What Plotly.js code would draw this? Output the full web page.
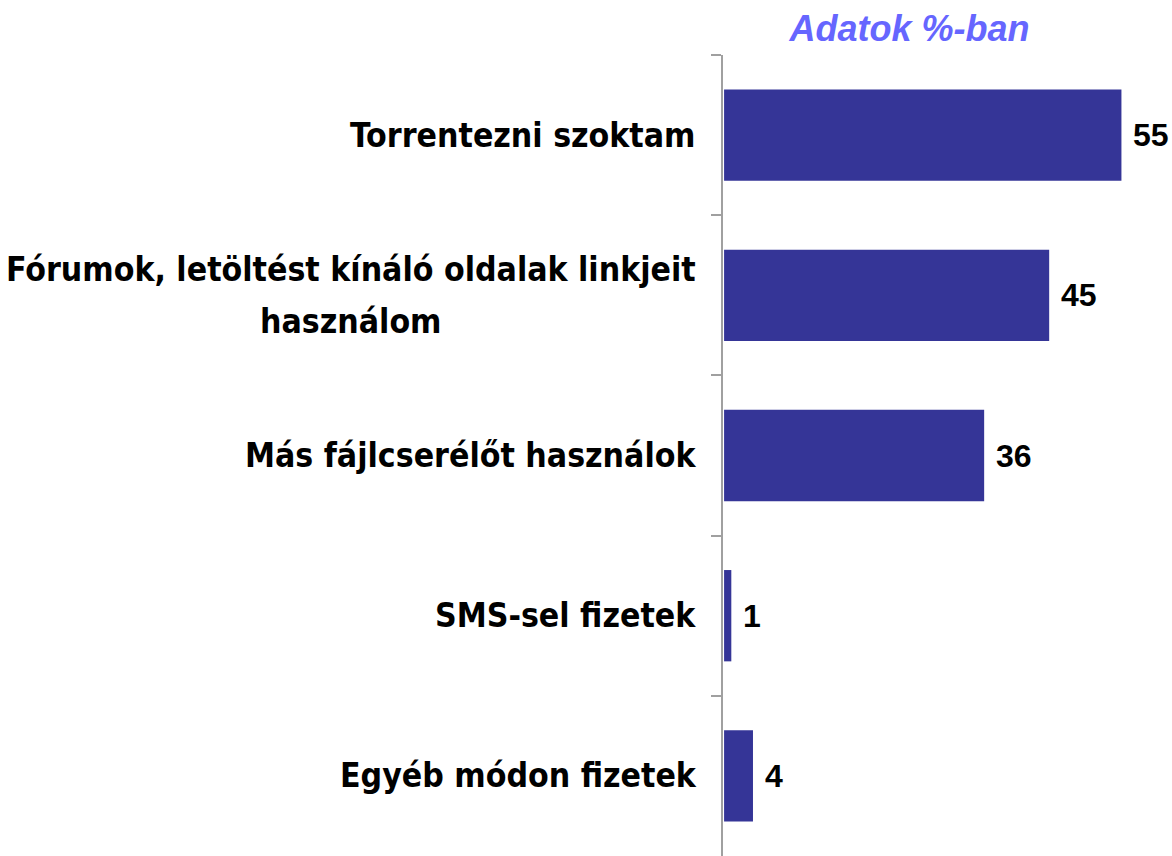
<!DOCTYPE html>
<html>
<head>
<meta charset="utf-8">
<script src="https://cdn.plot.ly/plotly-3.0.1.min.js"></script>
<style>html,body{margin:0;padding:0;background:#fff;}#chart{width:1172px;height:856px;}</style>
</head>
<body>
<div id="chart"></div>
<script>
var categories = [
  'Torrentezni szoktam',
  'Fórumok, letöltést kínáló oldalak linkjeit<br>használom',
  'Más fájlcserélőt használok',
  'SMS-sel fizetek',
  'Egyéb módon fizetek'
];
var values = [55, 45, 36, 1, 4];
var valueLabels = ['55', '45', '36', '1', '4'];
var titleText = 'Adatok %-ban';

var labelFamily = 'DejaVu Sans Condensed';
var labelSize = 33.5;
var labelFont = {family: labelFamily + ', DejaVu Sans', size: labelSize, color: '#000000', weight: 'bold'};
var valueFont = {family: 'Liberation Sans, Arial', size: 32, color: '#000000', weight: 'bold'};

var ctx = document.createElement('canvas').getContext('2d');
ctx.font = 'bold ' + labelSize + 'px "' + labelFamily + '"';

var annotations = [];
categories.forEach(function (c, i) {
  var lines = c.split('<br>');
  var mid = (lines.length - 1) / 2;
  var widths = lines.map(function (ln) { return ctx.measureText(ln).width; });
  var W = Math.max.apply(null, widths);
  lines.forEach(function (ln, j) {
    annotations.push({
      xref: 'paper', yref: 'y', x: 0, y: c,
      text: ln, showarrow: false, xanchor: 'center', yanchor: 'middle',
      xshift: -27 - W / 2, yshift: (mid - j) * 52, font: labelFont
    });
  });
  annotations.push({
    xref: 'x', yref: 'y', x: values[i], y: c,
    text: valueLabels[i], showarrow: false, xanchor: 'left', yanchor: 'middle',
    xshift: 10, font: valueFont
  });
});

var trace = {
  type: 'bar', orientation: 'h',
  x: values, y: categories,
  marker: {color: '#353597'},
  width: 0.57,
  hoverinfo: 'none'
};

var layout = {
  width: 1172, height: 856,
  margin: {l: 723, r: 0, t: 55, b: 0, pad: 0},
  paper_bgcolor: '#ffffff', plot_bgcolor: '#ffffff',
  showlegend: false,
  title: {
    text: titleText, x: 0.776, xanchor: 'center', y: 0.967, yanchor: 'middle',
    xref: 'container', yref: 'container',
    font: {family: 'Liberation Sans, Arial', size: 36, color: '#6666ff', weight: 'bold', style: 'italic'}
  },
  xaxis: {range: [-0.15, 62], visible: false, fixedrange: true},
  yaxis: {
    type: 'category', autorange: 'reversed',
    showticklabels: false, showgrid: false, zeroline: false,
    showline: true, linecolor: '#a0a0a0', linewidth: 2,
    ticks: 'outside', tickson: 'boundaries', ticklen: 10, tickcolor: '#a0a0a0', tickwidth: 2
  },
  annotations: annotations
};

Plotly.newPlot('chart', [trace], layout, {staticPlot: true});
</script>
</body>
</html>
